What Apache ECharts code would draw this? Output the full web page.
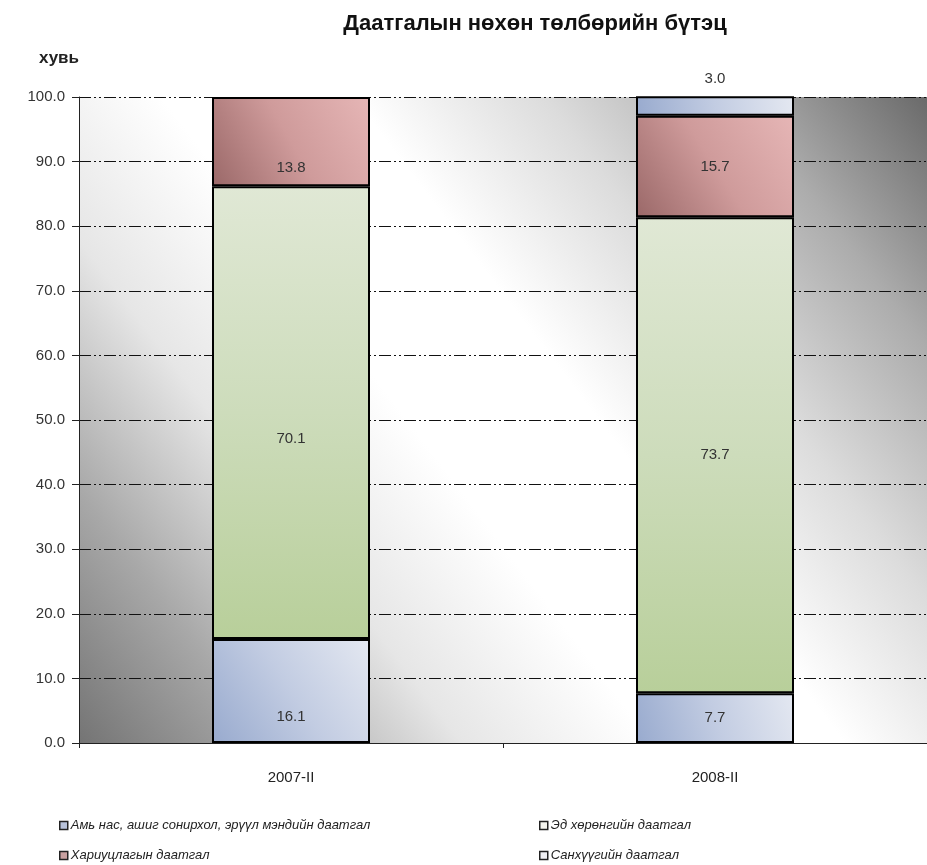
<!DOCTYPE html>
<html><head><meta charset="utf-8">
<script src="https://cdn.jsdelivr.net/npm/echarts@6/dist/echarts.min.js"></script>
<style>html,body{margin:0;padding:0;background:#fff}#c{width:927px;height:865px}</style>
</head><body><div id="c"></div>
<script>
const categories = ['2007-II', '2008-II'];
const seriesNames = [
  'Амь нас, ашиг сонирхол, эрүүл мэндийн даатгал',
  'Эд хөрөнгийн даатгал',
  'Хариуцлагын даатгал',
  'Санхүүгийн даатгал'
];
const lifeHealth = [16.1, 7.7];
const property = [70.1, 73.7];
const liability = [13.8, 15.7];
const financial = [null, 3.0];
const yTicks = [0, 10, 20, 30, 40, 50, 60, 70, 80, 90, 100];

const font = 'Liberation Sans, Arial, sans-serif';
function lg(stops, x, y, x2, y2) {
  return {type: 'linear', x: x, y: y, x2: x2, y2: y2,
    colorStops: stops.map((c, i) => ({offset: i / (stops.length - 1), color: c}))};
}
const fills = [
  lg(['#98aace', '#c2cce2', '#e4e8f1'], 0, 1, 1, 0),
  lg(['#e0e8d5', '#cddcbb', '#b8cf9a'], 0, 0, 0, 1),
  lg(['#9a6868', '#cf9b9b', '#e6b6b6'], 0, 1, 1, 0),
  lg(['#98aace', '#c2cce2', '#e4e8f1'], 0, 1, 1, 0)
];
const legendColors = ['#b8c2da', '#f4f4ee', '#c8a0a0', '#f0f0f4'];
const valueSets = [lifeHealth, property, liability, financial];

function mkData(arr) {
  return arr.map((v, i) => {
    if (v === null) return '-';
    const item = {value: v};
    if (i === 0) item.label = {offset: [0, 26]};
    return item;
  });
}

const series = valueSets.map((arr, si) => ({
  name: seriesNames[si],
  type: 'bar',
  stack: 'total',
  barWidth: 158,
  data: mkData(arr),
  itemStyle: {color: fills[si], borderColor: '#000', borderWidth: 2},
  label: {
    show: true,
    position: si === 3 ? 'top' : 'inside',
    distance: 10,
    color: '#333',
    fontFamily: font,
    fontSize: 15,
    formatter: p => Number(p.value).toFixed(1)
  }
}));

const legendPos = [[54, 814], [534, 814], [54, 844], [534, 844]];
const legends = seriesNames.map((n, i) => ({
  left: legendPos[i][0], top: legendPos[i][1],
  data: [{name: n, itemStyle: {color: legendColors[i], borderColor: '#222', borderWidth: 1.5}}],
  icon: 'rect', itemWidth: 8, itemHeight: 8, itemGap: 0,
  selectedMode: false,
  textStyle: {fontFamily: font, fontStyle: 'italic', fontSize: 13, color: '#222', padding: [0, 0, 0, -2]}
}));

const chart = echarts.init(document.getElementById('c'));
chart.setOption({
  animation: false,
  backgroundColor: '#fff',
  title: {
    text: 'Даатгалын нөхөн төлбөрийн бүтэц',
    left: 530, top: 8, textAlign: 'center',
    textStyle: {fontFamily: 'Liberation Sans Narrow, Liberation Sans, Arial', fontWeight: 'bold', fontSize: 22, color: '#111'}
  },
  legend: legends,
  grid: {
    left: 79, top: 97, right: -18, height: 646,
    show: true, borderWidth: 0,
    backgroundColor: lg(['#747474', '#a8a8a8', '#e6e6e6', '#ffffff', '#ffffff', '#dcdcdc', '#acacac', '#6a6a6a'], 0, 1, 1, 0)
  },
  xAxis: {
    type: 'category',
    data: categories,
    axisLine: {lineStyle: {color: '#222', width: 1}},
    axisTick: {show: true, length: 5, lineStyle: {color: '#222'}},
    axisLabel: {fontFamily: font, fontSize: 15, color: '#222', margin: 27}
  },
  yAxis: {
    type: 'value',
    min: yTicks[0], max: yTicks[yTicks.length - 1], interval: 10,
    name: 'хувь',
    nameLocation: 'end',
    nameGap: 30,
    nameTextStyle: {fontFamily: 'Liberation Sans Narrow, Liberation Sans, Arial', fontWeight: 'bold', fontSize: 17, color: '#222', align: 'left', padding: [0, 0, 0, -40]},
    axisLine: {show: true, lineStyle: {color: '#222', width: 1}},
    axisTick: {show: true, length: 7, lineStyle: {color: '#222'}},
    axisLabel: {fontFamily: font, fontSize: 15, color: '#333', margin: 14, formatter: v => v.toFixed(1)},
    splitLine: {show: true, lineStyle: {color: '#111', width: 1, type: [12, 3, 2, 3, 2, 3]}}
  },
  series: series
});
</script></body></html>
